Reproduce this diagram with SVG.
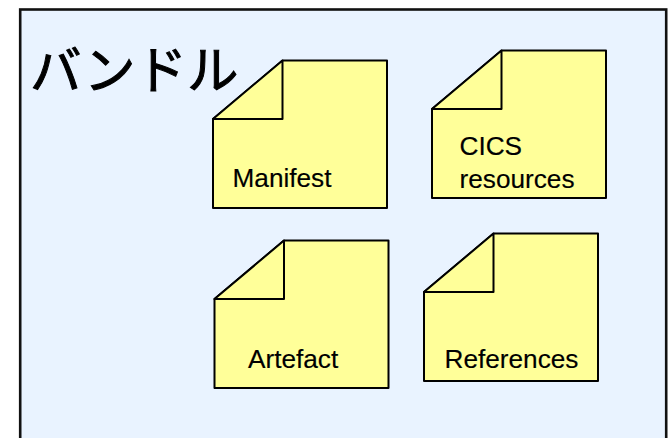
<svg xmlns="http://www.w3.org/2000/svg" width="672" height="438" viewBox="0 0 672 438">
<style>
.frame{fill:#e9f3ff;stroke:#111;stroke-width:2.6}
.note{fill:#ffff99;stroke:#000;stroke-width:2;stroke-linejoin:round}
.lbl{font-family:"Liberation Sans",Arial,sans-serif;font-size:26.2px;fill:#000;stroke:#000;stroke-width:.15}
.title{font-family:"Noto Sans CJK JP","Noto Sans CJK SC",sans-serif;font-size:51.5px;fill:#000;stroke:#000;stroke-width:1}
</style>
<defs>
<g id="note">
<path class="note" d="M69.500 0H174V147.500H0V58.500Z"/>
<path class="note" d="M0 58.500H69.500V0Z"/>
</g>
</defs>
<rect class="frame" x="20.200" y="9.500" width="646" height="440"/>
<text id="title" class="title" x="30" y="89">バンドル</text>
<g id="manifest"><use href="#note" x="213" y="60.500"/><text class="lbl" x="232.500" y="187">Manifest</text></g>
<g id="cics"><use href="#note" x="432" y="50.500"/><text class="lbl" x="459.500" y="155">CICS</text><text class="lbl" x="459.500" y="188">resources</text></g>
<g id="artefact"><use href="#note" x="214.500" y="240.500"/><text class="lbl" x="248" y="368">Artefact</text></g>
<g id="references"><use href="#note" x="424" y="233.500"/><text class="lbl" x="444.500" y="368">References</text></g>
</svg>
